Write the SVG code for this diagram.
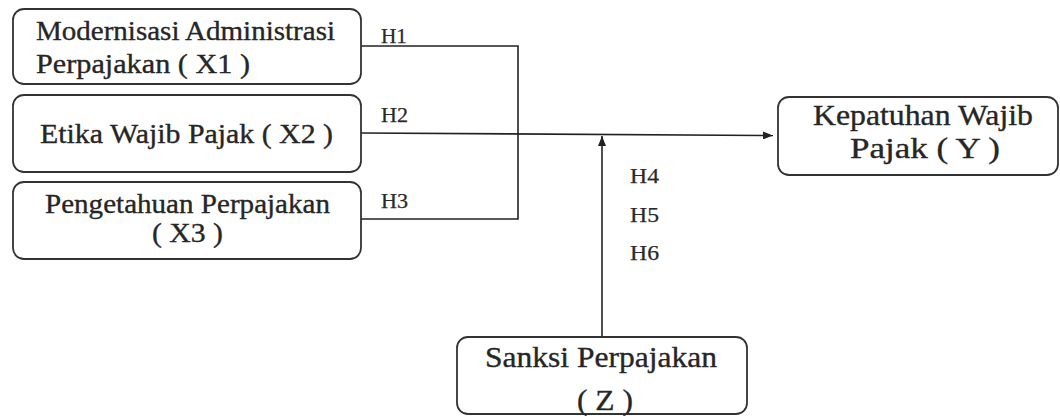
<svg xmlns="http://www.w3.org/2000/svg" width="1060" height="416" viewBox="0 0 1060 416">
  <defs>
    <marker id="arrow" viewBox="0 0 10 8" refX="10" refY="4" markerWidth="10" markerHeight="8" markerUnits="userSpaceOnUse" orient="auto">
      <path d="M0,0 L10,4 L0,8 Z" fill="#222"/>
    </marker>
  </defs>
  <style>
    .box { fill: #fff; stroke: #333; stroke-width: 1.8; }
    .wire { fill: none; stroke: #222; stroke-width: 1.6; }
  </style>
  <rect width="1060" height="416" fill="#fff"/>

  <!-- connectors -->
  <g id="connectors">
    <polyline class="wire" points="361,46 518,46 518,219 361,219"/>
    <line class="wire" x1="361" y1="133" x2="773" y2="135.5" marker-end="url(#arrow)"/>
    <line class="wire" x1="602" y1="337" x2="602" y2="136" marker-end="url(#arrow)"/>
    <g font-family="Liberation Serif, serif" font-size="20" fill="#2a2a2a" stroke="#2a2a2a" stroke-width="0.25">
      <text x="381" y="43" textLength="26" lengthAdjust="spacingAndGlyphs">H1</text>
      <text x="381" y="122" textLength="27" lengthAdjust="spacingAndGlyphs">H2</text>
      <text x="381" y="208" textLength="27" lengthAdjust="spacingAndGlyphs">H3</text>
      <text x="630" y="183" textLength="29" lengthAdjust="spacingAndGlyphs">H4</text>
      <text x="630" y="222" textLength="29" lengthAdjust="spacingAndGlyphs">H5</text>
      <text x="630" y="260" textLength="29" lengthAdjust="spacingAndGlyphs">H6</text>
    </g>
  </g>

  <!-- independent variables -->
  <g font-family="Liberation Serif, serif" font-size="28" fill="#262626" stroke="#262626" stroke-width="0.35">
    <g id="x1">
      <rect class="box" x="13" y="9" width="348" height="75" rx="11"/>
      <text x="36" y="40" textLength="299" lengthAdjust="spacingAndGlyphs">Modernisasi Administrasi</text>
      <text x="36" y="73" textLength="214" lengthAdjust="spacingAndGlyphs">Perpajakan ( X1 )</text>
    </g>
    <g id="x2">
      <rect class="box" x="13" y="95" width="348" height="77" rx="11"/>
      <text x="40" y="143" textLength="293" lengthAdjust="spacingAndGlyphs">Etika Wajib Pajak ( X2 )</text>
    </g>
    <g id="x3">
      <rect class="box" x="13" y="182" width="348" height="77" rx="11"/>
      <text x="45" y="213" textLength="285" lengthAdjust="spacingAndGlyphs">Pengetahuan Perpajakan</text>
      <text x="152" y="242" textLength="71" lengthAdjust="spacingAndGlyphs">( X3 )</text>
    </g>
  </g>

  <!-- dependent and moderating variables -->
  <g font-family="Liberation Serif, serif" font-size="30" fill="#262626" stroke="#262626" stroke-width="0.35">
    <g id="y">
      <rect class="box" x="778" y="97" width="280" height="78" rx="11"/>
      <text x="813" y="125" textLength="220" lengthAdjust="spacingAndGlyphs">Kepatuhan Wajib</text>
      <text x="850" y="158" textLength="150" lengthAdjust="spacingAndGlyphs">Pajak ( Y )</text>
    </g>
    <g id="z">
      <rect class="box" x="457" y="337" width="290" height="77" rx="11"/>
      <text x="485" y="367" textLength="232" lengthAdjust="spacingAndGlyphs">Sanksi Perpajakan</text>
      <text x="577" y="410" textLength="56" lengthAdjust="spacingAndGlyphs">( Z )</text>
    </g>
  </g>
</svg>
